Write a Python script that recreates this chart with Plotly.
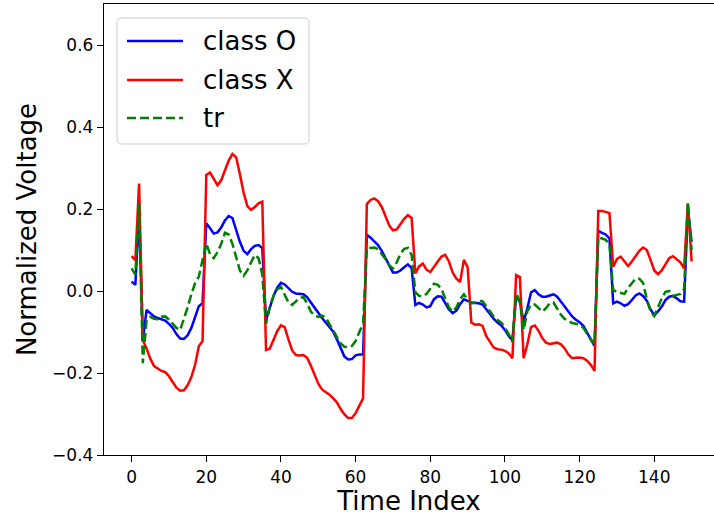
import plotly.graph_objects as go

time_index = list(range(151))

class_o = [
    0.023, 0.015, 0.19, -0.12, -0.046, -0.055, -0.062, -0.066, -0.069, -0.072,
    -0.08, -0.09, -0.105, -0.116, -0.117, -0.108, -0.09, -0.062, -0.037, -0.03,
    0.165, 0.153, 0.14, 0.143, 0.155, 0.172, 0.183, 0.178, 0.148, 0.12,
    0.098, 0.09, 0.102, 0.11, 0.112, 0.105, -0.071, -0.04, -0.012, 0.008,
    0.02, 0.016, 0.007, -0.002, -0.006, -0.007, -0.008, -0.015, -0.028, -0.043,
    -0.056, -0.066, -0.077, -0.088, -0.099, -0.118, -0.14, -0.16, -0.167, -0.166,
    -0.157, -0.155, -0.155, 0.137, 0.13, 0.122, 0.112, 0.098, 0.08, 0.06,
    0.045, 0.045, 0.05, 0.058, 0.065, 0.056, -0.034, -0.029, -0.033, -0.04,
    -0.037, -0.02, -0.013, -0.014, -0.028, -0.045, -0.054, -0.048, -0.032, -0.02,
    -0.024, -0.028, -0.029, -0.03, -0.033, -0.045, -0.056, -0.068, -0.077, -0.084,
    -0.095, -0.11, -0.12, -0.014, -0.026, -0.075, -0.042, -0.003, 0.002, -0.008,
    -0.014, -0.014, -0.011, -0.008, -0.014, -0.025, -0.038, -0.05, -0.062, -0.07,
    -0.076, -0.085, -0.1, -0.118, -0.134, 0.147, 0.142, 0.138, 0.128, -0.03,
    -0.026, -0.03, -0.036, -0.032, -0.022, -0.011, -0.006, -0.012, -0.024, -0.045,
    -0.059, -0.05, -0.038, -0.022, -0.014, -0.012, -0.018, -0.025, -0.026, 0.2,
    0.12,
]

class_x = [
    0.085, 0.075, 0.262, -0.12, -0.14, -0.165, -0.183, -0.19, -0.195, -0.198,
    -0.208, -0.222, -0.236, -0.243, -0.242, -0.23, -0.21, -0.18, -0.135, -0.122,
    0.283, 0.289, 0.272, 0.258, 0.27, 0.295, 0.318, 0.334, 0.326, 0.285,
    0.24, 0.207, 0.198, 0.205, 0.214, 0.218, -0.144, -0.141, -0.12, -0.098,
    -0.084, -0.088, -0.118, -0.145, -0.156, -0.157, -0.156, -0.163, -0.182, -0.205,
    -0.226, -0.24, -0.246, -0.253, -0.262, -0.272, -0.288, -0.301, -0.31, -0.31,
    -0.298, -0.278, -0.262, 0.212, 0.222, 0.226, 0.219, 0.205, 0.18, 0.16,
    0.148, 0.15, 0.163, 0.176, 0.185, 0.178, 0.043, 0.06, 0.067, 0.052,
    0.046, 0.06, 0.072, 0.084, 0.088, 0.072, 0.045, 0.03, 0.022, 0.076,
    0.058, -0.077, -0.082, -0.081, -0.085, -0.11, -0.124, -0.138, -0.142, -0.143,
    -0.146, -0.152, -0.164, 0.039, 0.034, -0.164, -0.13, -0.088, -0.084, -0.097,
    -0.115, -0.126, -0.129, -0.128, -0.126, -0.13, -0.14, -0.155, -0.164, -0.163,
    -0.162, -0.164, -0.17, -0.18, -0.195, 0.195, 0.195, 0.193, 0.19, 0.059,
    0.078, 0.084, 0.072, 0.061, 0.072, 0.086, 0.098, 0.106, 0.1, 0.076,
    0.05, 0.041, 0.05, 0.065, 0.08, 0.085, 0.078, 0.07, 0.055, 0.214,
    0.072,
]

tr = [
    0.055, 0.04, 0.214, -0.176, -0.071, -0.063, -0.068, -0.069, -0.063, -0.062,
    -0.07, -0.08, -0.09, -0.095, -0.07, -0.04, -0.008, 0.019, 0.035, 0.075,
    0.116, 0.09, 0.08, 0.095, 0.115, 0.142, 0.138, 0.115, 0.08, 0.05,
    0.037, 0.05, 0.07, 0.088, 0.08, 0.04, -0.08, -0.04, -0.012, 0.004,
    0.01, -0.01, -0.028, -0.034, -0.025, -0.017, -0.015, -0.03, -0.05, -0.06,
    -0.063, -0.06, -0.065, -0.08, -0.097, -0.112, -0.128, -0.136, -0.137, -0.134,
    -0.122, -0.1, -0.079, 0.104, 0.105, 0.106, 0.102, 0.09, 0.078, 0.063,
    0.055, 0.07, 0.09, 0.103, 0.105, 0.088, -0.003, -0.012, -0.013, -0.007,
    0.005, 0.018, 0.015, 0.005, -0.018, -0.04, -0.05, -0.04, -0.02, -0.008,
    -0.02, -0.03, -0.028, -0.024, -0.025, -0.038, -0.05, -0.062, -0.071, -0.077,
    -0.09, -0.105, -0.124, -0.006, -0.025, -0.095, -0.05, -0.033, -0.033, -0.042,
    -0.05, -0.042, -0.03, -0.028, -0.042, -0.058, -0.068, -0.074, -0.078, -0.08,
    -0.082, -0.09, -0.105, -0.118, -0.128, 0.131, 0.128, 0.125, 0.113, 0.002,
    -0.002, -0.005, -0.007, 0.008, 0.02, 0.03, 0.03, 0.02, -0.02, -0.05,
    -0.061, -0.04, -0.018, -0.002, 0.0, -0.012, -0.01, -0.007, 0.005, 0.215,
    0.1,
]

series_names = ["class O", "class X", "tr"]
series_colors = ["blue", "red", "green"]
series_dash = ["solid", "solid", "9px,4px"]

x_ticks = [0, 20, 40, 60, 80, 100, 120, 140]
y_ticks = [-0.4, -0.2, 0.0, 0.2, 0.4, 0.6]

FONT = "DejaVu Sans"
W, H = 714, 516
ML, MR, MT, MB = 104, 0, 4, 61
PW, PH = W - ML - MR, H - MT - MB


def px_x(p):
    return (p - ML) / PW


def px_y(p):
    return 1 - (p - MT) / PH


fig = go.Figure()
for name, vals, col, dash in zip(series_names, [class_o, class_x, tr], series_colors, series_dash):
    fig.add_trace(go.Scatter(x=time_index, y=vals, mode="lines", name=name,
                             showlegend=False,
                             line=dict(color=col, width=2.5, dash=dash)))

# legend drawn as a frame with sample lines and labels (matplotlib style)
bx0, bx1, by0, by1, rad = 117, 309, 18, 144, 5
path = (f"M {px_x(bx0 + rad)},{px_y(by0)} L {px_x(bx1 - rad)},{px_y(by0)} "
        f"Q {px_x(bx1)},{px_y(by0)} {px_x(bx1)},{px_y(by0 + rad)} "
        f"L {px_x(bx1)},{px_y(by1 - rad)} "
        f"Q {px_x(bx1)},{px_y(by1)} {px_x(bx1 - rad)},{px_y(by1)} "
        f"L {px_x(bx0 + rad)},{px_y(by1)} "
        f"Q {px_x(bx0)},{px_y(by1)} {px_x(bx0)},{px_y(by1 - rad)} "
        f"L {px_x(bx0)},{px_y(by0 + rad)} "
        f"Q {px_x(bx0)},{px_y(by0)} {px_x(bx0 + rad)},{px_y(by0)} Z")
shapes = [dict(type="path", xref="paper", yref="paper", path=path,
               fillcolor="rgba(255,255,255,0.8)", line=dict(color="#cccccc", width=1),
               layer="above")]
annotations = []
row_y = [41, 80, 118]
dash_map = {"solid": "solid", "9px,4px": "9px,4px"}
for name, col, dash, ry in zip(series_names, series_colors, series_dash, row_y):
    shapes.append(dict(type="line", xref="paper", yref="paper",
                       x0=px_x(127), x1=px_x(183), y0=px_y(ry), y1=px_y(ry),
                       line=dict(color=col, width=2.5, dash=dash_map[dash]), layer="above"))
    annotations.append(dict(xref="paper", yref="paper", x=px_x(201), y=px_y(ry),
                            xanchor="left", yanchor="middle", text=name, showarrow=False,
                            font=dict(family=FONT, size=26, color="black")))

fig.update_layout(
    width=W, height=H,
    margin=dict(l=ML, r=MR, t=MT, b=MB),
    paper_bgcolor="white", plot_bgcolor="white",
    font=dict(family=FONT, color="black", size=17),
    showlegend=False,
    shapes=shapes,
    annotations=annotations,
)
fig.update_xaxes(
    range=[-7.4, 156.0], tickvals=x_ticks, ticks="outside", ticklen=6, tickwidth=1.4,
    tickcolor="black", showline=True, linecolor="black", linewidth=1.4, mirror=True,
    showgrid=False, zeroline=False,
    tickfont=dict(family=FONT, size=17),
    title=dict(text="Time Index", font=dict(family=FONT, size=26), standoff=8),
)
fig.update_yaxes(
    range=[-0.4, 0.7], tickvals=y_ticks, tickformat=".1f", ticks="outside", ticklen=6,
    tickwidth=1.4, tickcolor="black", showline=True, linecolor="black", linewidth=1.4,
    showgrid=False, zeroline=False,
    tickfont=dict(family=FONT, size=17),
    title=dict(text="Normalized Voltage", font=dict(family=FONT, size=26), standoff=8),
)

fig.write_html("out.html")
